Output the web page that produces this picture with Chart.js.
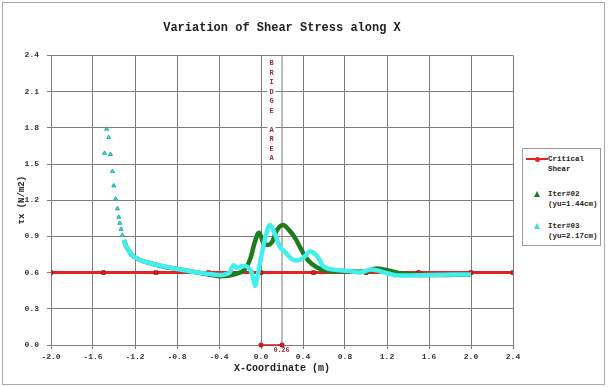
<!DOCTYPE html>
<html>
<head>
<meta charset="utf-8">
<script src="https://cdn.jsdelivr.net/npm/chart.js@4.4.0/dist/chart.umd.min.js"></script>
<style>
    body { margin: 0; width: 608px; height: 387px; background: #fff; overflow: hidden; font-family: "Liberation Mono", monospace; }
    #frame { position: absolute; left: 2px; top: 2px; width: 603px; height: 383px; border: 1px solid #a8a8a8; box-sizing: border-box; }
    #wrap { position: absolute; left: 0; top: 0; width: 608px; height: 387px; }
    #legend { position: absolute; left: 522px; top: 148px; width: 79px; height: 98px; border: 1px solid #9a9a9a; box-sizing: border-box; background: #fff; }
    .item { position: absolute; left: 0; width: 77px; }
    .txt { position: absolute; left: 25px; top: 0; font: bold 7.5px "Liberation Mono", monospace; line-height: 10px; color: #222; white-space: pre; }
    .sym { position: absolute; }
</style>
</head>
<body>
<div id="frame"></div>
<div id="wrap"><canvas id="shearChart" width="608" height="387"></canvas></div>
<div id="legend"></div>
<script>
// Critical shear line
const criticalX = [-2.0, -1.5, -1.0, -0.5, 0.0, 0.5, 1.0, 1.5, 2.0, 2.4];
const criticalY = [0.6, 0.6, 0.6, 0.6, 0.6, 0.6, 0.6, 0.6, 0.6, 0.6];

// Iter#02 (yu=1.44cm)
const iter02X = [-1.49, -1.47, -1.45, -1.43, -1.415, -1.40, -1.385, -1.37, -1.355, -1.345, -1.33, -1.32, -1.305, -1.29, -1.265, -1.235, -1.19, -1.11, -1.0, -0.9, -0.8, -0.7, -0.6, -0.5, -0.4, -0.3, -0.2, -0.15, -0.1, -0.06, -0.02, 0.0, 0.03, 0.07, 0.11, 0.15, 0.21, 0.27, 0.33, 0.39, 0.45, 0.53, 0.63, 0.8, 0.98, 1.1, 1.2, 1.32, 1.6, 2.0];
const iter02Y = [1.59, 1.79, 1.72, 1.58, 1.44, 1.32, 1.21, 1.13, 1.06, 1.01, 0.96, 0.91, 0.87, 0.83, 0.79, 0.75, 0.72, 0.69, 0.665, 0.645, 0.63, 0.615, 0.6, 0.585, 0.57, 0.575, 0.6, 0.63, 0.72, 0.85, 0.93, 0.9, 0.83, 0.83, 0.86, 0.95, 0.995, 0.95, 0.88, 0.78, 0.7, 0.645, 0.615, 0.61, 0.607, 0.635, 0.62, 0.595, 0.58, 0.585];

// Iter#03 (yu=2.17cm)
const iter03X = [-1.49, -1.47, -1.45, -1.434, -1.415, -1.403, -1.384, -1.367, -1.355, -1.345, -1.333, -1.32, -1.307, -1.29, -1.265, -1.235, -1.19, -1.11, -1.0, -0.9, -0.8, -0.7, -0.6, -0.5, -0.4, -0.3, -0.26, -0.23, -0.17, -0.1, -0.07, -0.055, -0.035, 0.005, 0.04, 0.085, 0.13, 0.18, 0.23, 0.29, 0.34, 0.40, 0.47, 0.54, 0.59, 0.69, 0.82, 0.95, 1.04, 1.1, 1.2, 1.31, 1.6, 2.0];
const iter03Y = [1.59, 1.79, 1.72, 1.58, 1.44, 1.32, 1.21, 1.13, 1.06, 1.01, 0.96, 0.91, 0.87, 0.83, 0.79, 0.75, 0.72, 0.69, 0.665, 0.648, 0.63, 0.615, 0.6, 0.59, 0.58, 0.6, 0.66, 0.64, 0.655, 0.62, 0.54, 0.49, 0.565, 0.745, 0.885, 0.995, 0.925, 0.815, 0.77, 0.715, 0.7, 0.72, 0.775, 0.73, 0.655, 0.625, 0.615, 0.6, 0.625, 0.62, 0.595, 0.575, 0.58, 0.585];

// bridge area edges and width annotation
const bridgeX = [0.0, 0.2];
const bridgeWidthLabel = '0.26';
const bridgeText = ['B', 'R', 'I', 'D', 'G', 'E', '', 'A', 'R', 'E', 'A'];

const seriesLabels = ['Critical\nShear', 'Iter#02\n(yu=1.44cm)', 'Iter#03\n(yu=2.17cm)'];

const toPoints = (xs, ys) => xs.map((x, i) => ({ x: x, y: ys[i] }));
const monoFont = '"Liberation Mono", monospace';
const sparseLimit = -1.31;

// BRIDGE AREA letters + 0.26 label
const bridgePlugin = {
    id: 'bridgeText',
    afterDraw(chart) {
        const ctx = chart.ctx;
        const xs = chart.scales.x;
        const area = chart.chartArea;
        const cx = (xs.getPixelForValue(bridgeX[0]) + xs.getPixelForValue(bridgeX[1])) / 2;
        ctx.save();
        ctx.font = 'bold 7px ' + monoFont;
        ctx.textAlign = 'center';
        ctx.textBaseline = 'middle';
        bridgeText.forEach((ch, i) => {
            if (!ch) return;
            const y = area.top + 8 + i * 9.5;
            ctx.fillStyle = '#fff';
            ctx.fillRect(cx - 4, y - 4, 8, 8);
            ctx.fillStyle = '#a0283c';
            ctx.fillText(ch, cx, y);
        });
        ctx.font = 'bold 6.5px ' + monoFont;
        ctx.fillStyle = '#b02030';
        ctx.fillText(bridgeWidthLabel, cx + 10, area.bottom + 5);
        ctx.restore();
    }
};

const ctxShear = document.getElementById('shearChart').getContext('2d');
const shearChart = new Chart(ctxShear, {
    type: 'scatter',
    data: {
        datasets: [{
            label: seriesLabels[0],
            data: toPoints(criticalX, criticalY),
            showLine: true,
            borderColor: '#e42222',
            borderWidth: 3,
            pointStyle: 'rect',
            pointRadius: 2.5,
            pointBackgroundColor: '#e42222',
            pointBorderColor: '#a31010',
            pointBorderWidth: 1,
            order: 2
        }, {
            label: seriesLabels[1],
            data: toPoints(iter02X, iter02Y),
            showLine: true,
            cubicInterpolationMode: 'monotone',
            borderColor: '#1d7d1d',
            borderWidth: 4.5,
            pointStyle: 'triangle',
            pointRadius: ctx => ctx.raw && ctx.raw.x < sparseLimit ? 2 : 0,
            pointBackgroundColor: '#1d7d1d',
            pointBorderColor: '#1d7d1d',
            pointBorderWidth: 0,
            segment: {
                borderColor: ctx => ctx.p0.parsed.x < sparseLimit ? 'rgba(0,0,0,0)' : undefined
            },
            order: 1
        }, {
            label: seriesLabels[2],
            data: toPoints(iter03X, iter03Y),
            showLine: true,
            cubicInterpolationMode: 'monotone',
            borderColor: '#42eeee',
            borderWidth: 4.5,
            pointStyle: 'triangle',
            pointRadius: ctx => ctx.raw && ctx.raw.x < sparseLimit ? 2.3 : 0,
            pointBackgroundColor: '#3fe6dc',
            pointBorderColor: '#22b0a6',
            pointBorderWidth: 1,
            segment: {
                borderColor: ctx => ctx.p0.parsed.x < sparseLimit ? 'rgba(0,0,0,0)' : undefined
            },
            order: 0
        }, {
            // bridge edge line
            label: 'bridge',
            data: [{ x: bridgeX[1], y: 0 }, { x: bridgeX[1], y: 2.4 }],
            showLine: true,
            borderColor: '#7a7a7a',
            borderWidth: 1,
            pointRadius: 0,
            order: 4
        }, {
            // bridge width marker on the axis
            label: 'width',
            data: bridgeX.map(x => ({ x: x, y: 0 })),
            showLine: true,
            borderColor: '#c02020',
            borderWidth: 1.5,
            pointRadius: 1.8,
            pointBackgroundColor: '#c02020',
            pointBorderColor: '#c02020',
            clip: false,
            order: 3
        }]
    },
    options: {
        responsive: false,
        animation: false,
        layout: { padding: { left: 0, right: 95, top: 0, bottom: 0 } },
        plugins: {
            legend: { display: false },
            tooltip: { enabled: false },
            title: {
                display: true,
                fullSize: false,
                text: 'Variation of Shear Stress along X',
                color: '#222',
                font: { family: monoFont, size: 12, weight: 'bold' },
                padding: { top: 21, bottom: 20 }
            }
        },
        scales: {
            x: {
                type: 'linear',
                min: -2.0,
                max: 2.4,
                afterFit: scale => { scale.height = 42; },
                ticks: {
                    stepSize: 0.4,
                    color: '#333',
                    padding: 3,
                    maxRotation: 0,
                    font: { family: monoFont, size: 8, weight: 'bold' },
                    callback: v => (Math.abs(v) < 1e-9 ? 0 : v).toFixed(1)
                },
                grid: { color: '#7d7d7d', tickLength: 4 },
                border: { color: '#7d7d7d' },
                title: {
                    display: true,
                    text: 'X-Coordinate (m)',
                    color: '#222',
                    font: { family: monoFont, size: 10, weight: 'bold' },
                    padding: { top: 0, bottom: 13 }
                }
            },
            y: {
                min: 0,
                max: 2.4,
                afterFit: scale => { scale.width = 51; },
                ticks: {
                    stepSize: 0.3,
                    color: '#333',
                    padding: 8,
                    font: { family: monoFont, size: 8, weight: 'bold' },
                    callback: v => v.toFixed(1)
                },
                grid: { color: '#7d7d7d', tickLength: 4 },
                border: { color: '#7d7d7d' },
                title: {
                    display: true,
                    text: 'τx (N/m2)',
                    color: '#222',
                    font: { family: monoFont, size: 9, weight: 'bold' },
                    padding: { top: 16, bottom: 0 }
                }
            }
        }
    },
    plugins: [bridgePlugin]
});

// HTML legend (multi-line labels)
const legendBox = document.getElementById('legend');
const legendTops = [5, 40, 72];
const symbols = [
    '<div class="sym" style="left:3px;top:4px;width:22px;height:2px;background:#e42222"></div>' +
    '<div class="sym" style="left:12px;top:2.5px;width:5px;height:5px;background:#e42222;border-radius:50%"></div>',
    '<div class="sym" style="left:11px;top:2px;width:0;height:0;border-left:3px solid transparent;border-right:3px solid transparent;border-bottom:6px solid #1d7d1d"></div>',
    '<div class="sym" style="left:11px;top:2px;width:0;height:0;border-left:3px solid transparent;border-right:3px solid transparent;border-bottom:6px solid #3fe0d8"></div>'
];
seriesLabels.forEach(function (label, i) {
    const item = document.createElement('div');
    item.className = 'item';
    item.style.top = legendTops[i] + 'px';
    item.innerHTML = symbols[i] + '<div class="txt"></div>';
    item.querySelector('.txt').textContent = label;
    legendBox.appendChild(item);
});
</script>
</body>
</html>
